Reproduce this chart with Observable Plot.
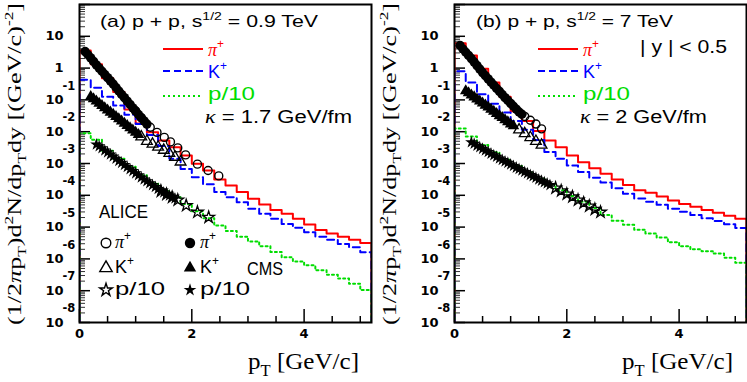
<!DOCTYPE html>
<html><head><meta charset="utf-8">
<script src="https://cdn.jsdelivr.net/npm/d3@7"></script>
<script src="https://cdn.jsdelivr.net/npm/@observablehq/plot@0.6"></script>
<style>
html,body{margin:0;padding:0;background:#fff;}
#wrap{position:relative;width:747px;height:382px;overflow:hidden;background:#fff;}
</style></head><body><div id="wrap"></div>
<script>
// ---------- axis ticks ----------
const yDomain = [1e-8, 1e2];
const yLabelExps = [1, 0, -1, -2, -3, -4, -5, -6, -7, -8];
const xTickLabels = [0, 2, 4];
const xMinorTicks = [0.5, 1, 1.5, 2.5, 3, 3.5, 4.5, 5];

// ---------- model histograms: bin lower edges (width 0.2 GeV/c), values read as log10 ----------
const binLo = [0,0.2,0.4,0.6,0.8,1.0,1.2,1.4,1.6,1.8,2.0,2.2,2.4,2.6,2.8,3.0,3.2,3.4,3.6,3.8,4.0,4.2,4.4,4.6,4.8,5.0];
const binW = 0.2;
// panel (a) 0.9 TeV, kappa = 1.7 GeV/fm
const log10_piModelA = [0.55,0.12,-0.32,-0.75,-1.3,-1.74,-2.02,-2.28,-2.49,-2.75,-3.01,-3.22,-3.5,-3.69,-3.9,-4.11,-4.29,-4.46,-4.58,-4.74,-4.92,-5.09,-5.2,-5.3,-5.4,-5.5];
const log10_kModelA  = [-0.37,-0.62,-0.9,-1.18,-1.47,-1.76,-2.1,-2.45,-2.85,-3.17,-3.43,-3.65,-3.9,-4.06,-4.22,-4.42,-4.58,-4.74,-4.9,-5.02,-5.16,-5.3,-5.4,-5.53,-5.63,-5.79];
const log10_pModelA  = [-2.05,-2.25,-2.6,-2.85,-3.1,-3.37,-3.62,-3.86,-4.06,-4.27,-4.5,-4.72,-4.95,-5.12,-5.3,-5.45,-5.6,-5.78,-5.95,-6.08,-6.2,-6.36,-6.5,-6.62,-6.78,-6.98];
// panel (b) 7 TeV, kappa = 2 GeV/fm
const log10_piModelB = [0.78,0.4,-0.02,-0.45,-0.9,-1.36,-1.66,-1.98,-2.28,-2.49,-2.75,-2.96,-3.15,-3.32,-3.5,-3.68,-3.84,-3.92,-4.04,-4.16,-4.27,-4.36,-4.46,-4.55,-4.64,-4.74];
const log10_kModelB  = [-0.1,-0.45,-0.82,-1.12,-1.4,-1.66,-1.94,-2.26,-2.64,-2.85,-3.06,-3.27,-3.45,-3.6,-3.78,-3.95,-4.1,-4.2,-4.3,-4.42,-4.52,-4.62,-4.72,-4.81,-4.91,-5.03];
const log10_pModelB  = [-1.9,-2.15,-2.42,-2.65,-2.88,-3.08,-3.28,-3.48,-3.66,-3.84,-4.02,-4.2,-4.4,-4.62,-4.8,-4.93,-5.08,-5.2,-5.33,-5.48,-5.6,-5.7,-5.76,-5.83,-5.96,-6.12];

// ---------- data points (log10 of yield) ----------
const pT_cmsPi = [0.1,0.15,0.2,0.25,0.3,0.35,0.4,0.45,0.5,0.55,0.6,0.65,0.7,0.75,0.8,0.85,0.9,0.95,1.0,1.05,1.1,1.15,1.2];
const pT_cmsK  = [0.2,0.25,0.3,0.35,0.4,0.45,0.5,0.55,0.6,0.65,0.7,0.75,0.8,0.85,0.9,0.95,1.0,1.05];
const pT_cmsP  = [0.3,0.35,0.4,0.45,0.5,0.55,0.6,0.65,0.7,0.75,0.8,0.85,0.9,0.95,1.0,1.05,1.1,1.15,1.2,1.25,1.3,1.35,1.4,1.45,1.5,1.55,1.6,1.65,1.7];
// (a)
const log10_cmsPiA = [0.52,0.42,0.32,0.21,0.1,0.0,-0.1,-0.2,-0.3,-0.4,-0.5,-0.61,-0.72,-0.83,-0.93,-1.04,-1.14,-1.25,-1.35,-1.46,-1.56,-1.66,-1.76];
const log10_cmsKA  = [-0.9,-0.97,-1.04,-1.11,-1.18,-1.25,-1.32,-1.39,-1.46,-1.53,-1.6,-1.67,-1.74,-1.81,-1.88,-1.95,-2.02,-2.09];
const log10_cmsPA  = [-2.4,-2.46,-2.52,-2.59,-2.65,-2.72,-2.78,-2.85,-2.92,-2.98,-3.05,-3.11,-3.18,-3.24,-3.31,-3.37,-3.44,-3.5,-3.56,-3.62,-3.68,-3.74,-3.8,-3.85,-3.91,-3.96,-4.01,-4.06,-4.1];
const pT_alicePiA = [1.0,1.1,1.26,1.38,1.51,1.62,1.75,1.89,2.1,2.29,2.48];
const log10_alicePiA = [-1.35,-1.56,-1.86,-2.02,-2.18,-2.32,-2.51,-2.73,-3.02,-3.22,-3.39];
const pT_aliceKA = [1.1,1.2,1.3,1.4,1.5,1.6,1.7,1.8];
const log10_aliceKA = [-2.16,-2.3,-2.39,-2.48,-2.58,-2.68,-2.8,-2.95];
const pT_alicePA = [1.45,1.55,1.65,1.75,1.9,2.1,2.3];
const log10_alicePA = [-3.87,-3.97,-4.06,-4.15,-4.32,-4.53,-4.69];
// (b)
const log10_cmsPiB = [0.71,0.6,0.5,0.4,0.3,0.19,0.08,-0.03,-0.14,-0.24,-0.34,-0.44,-0.54,-0.64,-0.73,-0.83,-0.93,-1.02,-1.11,-1.2,-1.29,-1.38,-1.45];
const log10_cmsKB  = [-0.72,-0.78,-0.85,-0.91,-0.98,-1.04,-1.1,-1.17,-1.23,-1.3,-1.36,-1.43,-1.5,-1.56,-1.63,-1.69,-1.76,-1.82];
const log10_cmsPB  = [-2.33,-2.38,-2.44,-2.49,-2.54,-2.59,-2.64,-2.69,-2.74,-2.79,-2.84,-2.89,-2.94,-2.98,-3.03,-3.08,-3.13,-3.17,-3.22,-3.27,-3.31,-3.36,-3.4,-3.45,-3.5,-3.54,-3.59,-3.63,-3.68];
const pT_alicePiB = [1.25,1.35,1.45,1.55];
const log10_alicePiB = [-1.52,-1.64,-1.76,-1.91];
const pT_aliceKB = [1.15,1.25,1.35,1.45,1.55];
const log10_aliceKB = [-1.94,-2.06,-2.18,-2.3,-2.42];
const pT_alicePB = [1.8,1.9,2.0,2.1,2.2,2.3,2.4,2.5,2.6];
const log10_alicePB = [-3.77,-3.86,-3.96,-4.05,-4.15,-4.24,-4.34,-4.44,-4.53];

// ---------- styles ----------
const RED = "#ff0000", BLUE = "#0000ff", GREEN = "#00dd00";
const SANS = "Liberation Sans, Arial, sans-serif";
const SERIF = "Liberation Serif, Times New Roman, serif";
const TICKFONT = "DejaVu Sans, sans-serif";
const H = 382, MT = 4, MB = 60, ML = 79;

function pts(xs, logs) { return xs.map((x, i) => ({x, y: 10 ** logs[i]})); }
function hist(logs) {
  const floor = yDomain[0] / 10, last = binLo[binLo.length - 1] + binW;
  const p = [{x: binLo[0], y: floor}];
  logs.forEach((v, i) => p.push({x: binLo[i], y: 10 ** v}));
  p.push({x: last, y: 10 ** logs[logs.length - 1]});
  p.push({x: last, y: floor});
  return p;
}

function rich(svg, o) {
  const size = o.size;
  const t = d3.select(svg).append("text")
    .attr("font-family", o.family).attr("font-size", size)
    .attr("fill", o.fill || "black").attr("text-anchor", o.anchor || "start");
  if (o.weight) t.attr("font-weight", o.weight);
  if (o.rotate) t.attr("transform", `translate(${o.x},${o.y}) rotate(${o.rotate})`);
  else t.attr("x", o.x).attr("y", o.y);
  let shift = 0;
  for (const p of o.parts) {
    const s = t.append("tspan").text(p.t);
    const target = p.sup ? -0.42 * size : p.sub ? 0.28 * size : 0;
    if (target - shift !== 0) s.attr("dy", target - shift);
    shift = target;
    if (p.sup || p.sub) s.attr("font-size", size * 0.66);
    if (p.it) s.attr("font-style", "italic").attr("font-family", SERIF);
  }
  if (o.width) t.attr("textLength", o.width).attr("lengthAdjust", "spacingAndGlyphs");
  return t;
}
function legLine(svg, x1, x2, y, color, dash) {
  d3.select(svg).append("line").attr("x1", x1).attr("x2", x2).attr("y1", y).attr("y2", y)
    .attr("stroke", color).attr("stroke-width", 2).attr("stroke-dasharray", dash || null);
}
function legMarker(svg, x, y, type, filled, r) {
  d3.select(svg).append("path").attr("transform", `translate(${x},${y})`)
    .attr("d", d3.symbol(type, Math.PI * r * r)())
    .attr("fill", filled ? "black" : "none").attr("stroke", filled ? "none" : "black")
    .attr("stroke-width", 1.4);
}

function panel(cfg) {
  const W = cfg.width, innerW = W - ML - cfg.mr, innerH = H - MT - MB;
  const yMinor = [];
  for (let k = -8; k <= 1; k++) for (let m = 2; m <= 9; m++) yMinor.push(m * 10 ** k);
  const yMajor = yLabelExps.map(k => 10 ** k).concat([1e2]);
  const svg = Plot.plot({
    width: W, height: H, marginLeft: ML, marginRight: cfg.mr, marginTop: MT, marginBottom: MB,
    style: {background: "white", overflow: "visible"},
    x: {domain: [0, 5.2], axis: null},
    y: {type: "log", domain: yDomain, axis: null},
    marks: [
      Plot.tickY(yMinor, {y: d => d, insetRight: innerW - 6, stroke: "#333", strokeWidth: 1}),
      Plot.tickY(yMajor, {y: d => d, insetRight: innerW - 11, stroke: "black", strokeWidth: 1.5}),
      Plot.tickX(xMinorTicks, {x: d => d, insetTop: innerH - 6, stroke: "black", strokeWidth: 1.5}),
      Plot.tickX(xTickLabels, {x: d => d, insetTop: innerH - 13, stroke: "black", strokeWidth: 1.5}),
      Plot.text(yLabelExps, {y: k => 10 ** k, text: k => (k === 0 ? "1" : "10"), frameAnchor: "left",
        textAnchor: "end", dx: -16, fontFamily: TICKFONT, fontWeight: "bold", fontSize: 13, fill: "black"}),
      Plot.text(yLabelExps.filter(k => k < 0), {y: k => 10 ** k, text: k => String(k), frameAnchor: "left",
        textAnchor: "start", dx: -17, dy: -14, fontFamily: TICKFONT, fontWeight: "bold", fontSize: 11.5, fill: "black"}),
      Plot.text(xTickLabels, {x: d => d, text: d => String(d), frameAnchor: "bottom", dy: 15,
        fontFamily: TICKFONT, fontWeight: "bold", fontSize: 13, fill: "black"}),
      Plot.line(hist(cfg.piModel), {x: "x", y: "y", curve: "step-after", stroke: RED, strokeWidth: 2, clip: true}),
      Plot.line(hist(cfg.kModel), {x: "x", y: "y", curve: "step-after", stroke: BLUE, strokeWidth: 2, strokeDasharray: "7,4", clip: true}),
      Plot.line(hist(cfg.pModel), {x: "x", y: "y", curve: "step-after", stroke: GREEN, strokeWidth: 2, strokeDasharray: "2,3", clip: true}),
      Plot.dot(pts(pT_cmsP, cfg.cmsP), {x: "x", y: "y", symbol: "star", r: 3.9, fill: "black", stroke: "none"}),
      Plot.dot(pts(cfg.aliceP[0], cfg.aliceP[1]), {x: "x", y: "y", symbol: "star", r: 3.7, fill: "none", stroke: "black", strokeWidth: 1.3}),
      Plot.dot(pts(pT_cmsK, cfg.cmsK), {x: "x", y: "y", symbol: "triangle", r: 4.3, fill: "black", stroke: "none"}),
      Plot.dot(pts(cfg.aliceK[0], cfg.aliceK[1]), {x: "x", y: "y", symbol: "triangle", r: 4.0, fill: "none", stroke: "black", strokeWidth: 1.3}),
      Plot.dot(pts(pT_cmsPi, cfg.cmsPi), {x: "x", y: "y", symbol: "circle", r: 4.7, fill: "black", stroke: "none"}),
      Plot.dot(pts(cfg.alicePi[0], cfg.alicePi[1]), {x: "x", y: "y", symbol: "circle", r: 4.0, fill: "none", stroke: "black", strokeWidth: 1.4}),
      Plot.frame({stroke: "black", strokeWidth: 2})
    ]
  });
  svg.style.position = "absolute";
  svg.style.left = cfg.left + "px";
  svg.style.top = "0px";
  document.getElementById("wrap").appendChild(svg);

  // axis titles
  rich(svg, {x: 21, y: 325, rotate: -90, size: 19, family: SERIF, width: 322,
    parts: [{t: "(1/2"}, {t: "π", it: true}, {t: "p"}, {t: "T", sub: true}, {t: ")d"}, {t: "2", sup: true},
            {t: "N/dp"}, {t: "T", sub: true}, {t: "dy [(GeV/c)"}, {t: "-2", sup: true}, {t: "]"}]});
  rich(svg, {x: cfg.xTitleEnd, y: 369, anchor: "end", size: 24, family: SERIF, width: 111,
    parts: [{t: "p"}, {t: "T", sub: true}, {t: " [GeV/c]"}]});

  // header & legend
  rich(svg, {x: cfg.titleX, y: 27, size: 17, family: SANS, width: cfg.titleW,
    parts: [{t: cfg.label + " p + p, s"}, {t: "1/2", sup: true}, {t: " = " + cfg.energy + " TeV"}]});
  legLine(svg, 163, 203, 49, RED);
  legLine(svg, 163, 203, 71, BLUE, "7,4");
  legLine(svg, 163, 203, 96, GREEN, "2,3");
  rich(svg, {x: 208, y: 56, size: 18, family: SANS, fill: RED, parts: [{t: "π", it: true}, {t: "+", sup: true}]});
  rich(svg, {x: 208, y: 78, size: 18, family: SANS, fill: BLUE, parts: [{t: "K"}, {t: "+", sup: true}]});
  rich(svg, {x: 208, y: 100, size: 18, family: SANS, fill: GREEN, width: 47, parts: [{t: "p/10"}]});
  rich(svg, {x: 205, y: 123, size: 18, family: SANS, width: cfg.kappaW,
    parts: [{t: "κ", it: true}, {t: " = " + cfg.kappa + " GeV/fm"}]});
  cfg.extra && cfg.extra(svg);
}

// panel (a)
panel({left: 0, width: 375, mr: 4, label: "(a)", energy: "0.9", kappa: "1.7",
  titleX: 100, titleW: 218, kappaW: 147, xTitleEnd: 359,
  piModel: log10_piModelA, kModel: log10_kModelA, pModel: log10_pModelA,
  cmsPi: log10_cmsPiA, cmsK: log10_cmsKA, cmsP: log10_cmsPA,
  alicePi: [pT_alicePiA, log10_alicePiA], aliceK: [pT_aliceKA, log10_aliceKA], aliceP: [pT_alicePA, log10_alicePA],
  extra: svg => {
    rich(svg, {x: 99, y: 218, size: 18, family: SANS, width: 49, parts: [{t: "ALICE"}]});
    rich(svg, {x: 247, y: 275, size: 18, family: SANS, width: 36, parts: [{t: "CMS"}]});
    legMarker(svg, 106, 243, d3.symbolCircle, false, 4.8);
    legMarker(svg, 190, 243, d3.symbolCircle, true, 5.2);
    legMarker(svg, 106, 268, d3.symbolTriangle, false, 4.6);
    legMarker(svg, 190, 268, d3.symbolTriangle, true, 4.6);
    legMarker(svg, 106, 290, d3.symbolStar, false, 4.0);
    legMarker(svg, 190, 290, d3.symbolStar, true, 4.0);
    rich(svg, {x: 115, y: 248, size: 18, family: SANS, parts: [{t: "π", it: true}, {t: "+", sup: true}]});
    rich(svg, {x: 200, y: 248, size: 18, family: SANS, parts: [{t: "π", it: true}, {t: "+", sup: true}]});
    rich(svg, {x: 115, y: 273, size: 18, family: SANS, parts: [{t: "K"}, {t: "+", sup: true}]});
    rich(svg, {x: 200, y: 273, size: 18, family: SANS, parts: [{t: "K"}, {t: "+", sup: true}]});
    rich(svg, {x: 115, y: 295, size: 18, family: SANS, width: 50, parts: [{t: "p/10"}]});
    rich(svg, {x: 200, y: 295, size: 18, family: SANS, width: 50, parts: [{t: "p/10"}]});
  }
});
// panel (b)
panel({left: 375, width: 372, mr: 1, label: "(b)", energy: "7", kappa: "2",
  titleX: 101, titleW: 197, kappaW: 127, xTitleEnd: 358,
  piModel: log10_piModelB, kModel: log10_kModelB, pModel: log10_pModelB,
  cmsPi: log10_cmsPiB, cmsK: log10_cmsKB, cmsP: log10_cmsPB,
  alicePi: [pT_alicePiB, log10_alicePiB], aliceK: [pT_aliceKB, log10_aliceKB], aliceP: [pT_alicePB, log10_alicePB],
  extra: svg => {
    rich(svg, {x: 265, y: 53, size: 18, family: SANS, width: 87, parts: [{t: "| y | < 0.5"}]});
  }
});
</script></body></html>
